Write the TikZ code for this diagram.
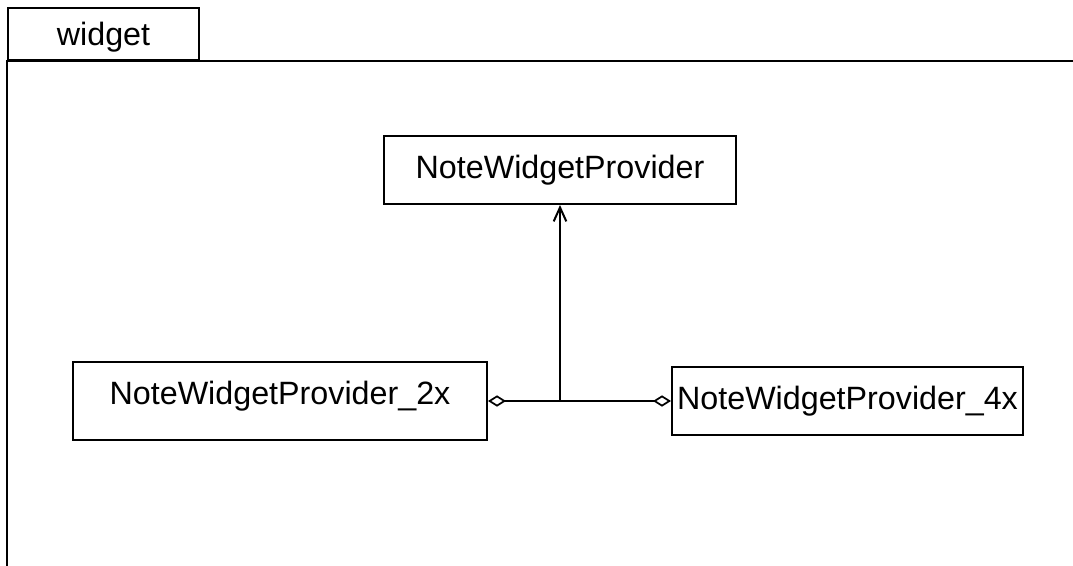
\documentclass[tikz,border=0pt]{standalone}
\usepackage{fontspec}
\setmainfont{Liberation Sans}
\usetikzlibrary{arrows.meta,positioning}

\begin{document}
\begin{tikzpicture}[x=0.75pt,y=-0.75pt,line width=1.5pt,
	umlfont/.style={font=\fontsize{24.2}{29}\selectfont},
	classbox/.style={draw, umlfont, inner sep=0pt, minimum height=51pt},
	aggr/.tip={Diamond[open, length=13.5pt, width=8.5pt, line width=1.3pt]}]

	\clip (0,0) rectangle (1073,565);

	% package frame
	\node[draw, umlfont, inner sep=0pt, minimum width=143.25pt, minimum height=39pt, anchor=north west] (tab) at (7,7) {\raisebox{-2.5pt}[\height][\depth]{widget}};
	\draw (tab.south west) rectangle (1090,566.5);

	% classes
	\node[classbox, minimum width=264pt] (provider) at (560,170) {NoteWidgetProvider};
	\node[classbox, minimum width=310.5pt, minimum height=58.5pt] (provider2x) at (280,401) {\raisebox{4pt}[\height][\depth]{NoteWidgetProvider\_2x}};
	\node[classbox, minimum width=263.25pt] (provider4x) at (847.5,401) {NoteWidgetProvider\_4x};

	% relations
	\coordinate (join) at (provider.south |- provider2x.east);
	\draw[aggr-aggr] (provider2x.east) -- (provider4x.west);
	\draw[-{Straight Barb[length=10.5pt, width=9.5pt]}] (join) -- (provider.south);

\end{tikzpicture}
\end{document}
